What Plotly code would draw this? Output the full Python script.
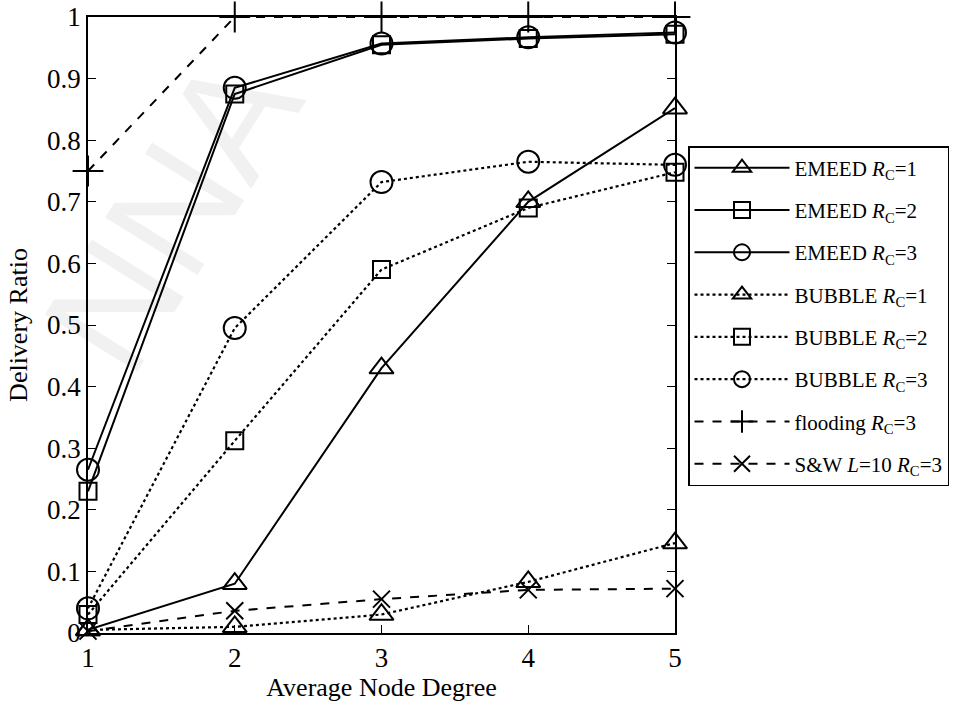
import plotly.graph_objects as go

# Average node degree (x axis)
node_degree = [1, 2, 3, 4, 5]

# Delivery ratio per scheme
emeed_rc1 = [0.005, 0.080, 0.430, 0.700, 0.852]
emeed_rc2 = [0.230, 0.875, 0.955, 0.965, 0.972]
emeed_rc3 = [0.265, 0.885, 0.957, 0.967, 0.975]
bubble_rc1 = [0.005, 0.010, 0.030, 0.083, 0.146]
bubble_rc2 = [0.030, 0.312, 0.590, 0.690, 0.748]
bubble_rc3 = [0.040, 0.495, 0.732, 0.765, 0.760]
flooding_rc3 = [0.750, 1.000, 1.000, 1.000, 1.000]
sw_l10_rc3 = [0.003, 0.036, 0.055, 0.070, 0.072]

series_names = [
    "EMEED <i>R</i><sub>C</sub>=1",
    "EMEED <i>R</i><sub>C</sub>=2",
    "EMEED <i>R</i><sub>C</sub>=3",
    "BUBBLE <i>R</i><sub>C</sub>=1",
    "BUBBLE <i>R</i><sub>C</sub>=2",
    "BUBBLE <i>R</i><sub>C</sub>=3",
    "flooding <i>R</i><sub>C</sub>=3",
    "S&W <i>L</i>=10 <i>R</i><sub>C</sub>=3",
]
series_values = [emeed_rc1, emeed_rc2, emeed_rc3,
                 bubble_rc1, bubble_rc2, bubble_rc3,
                 flooding_rc3, sw_l10_rc3]

y_tick_vals = [0, 0.1, 0.2, 0.3, 0.4, 0.5, 0.6, 0.7, 0.8, 0.9, 1]
y_tick_text = ["0", "0.1", "0.2", "0.3", "0.4", "0.5", "0.6", "0.7", "0.8", "0.9", "1"]
x_tick_vals = [1, 2, 3, 4, 5]

styles = [
    dict(dash="solid", symbol="triangle-up-open", size=21),
    dict(dash="solid", symbol="square-open", size=17),
    dict(dash="solid", symbol="circle-open", size=22),
    dict(dash="dot", symbol="triangle-up-open", size=21),
    dict(dash="dot", symbol="square-open", size=17),
    dict(dash="dot", symbol="circle-open", size=22),
    dict(dash="dash", symbol="cross-thin-open", size=22),
    dict(dash="dash", symbol="x-thin-open", size=17),
]

FONT = "Liberation Serif, Times New Roman, serif"

fig = go.Figure()
for i, (name, vals, st) in enumerate(zip(series_names, series_values, styles)):
    fig.add_trace(go.Scatter(
        x=node_degree, y=vals, name=name, mode="lines+markers",
        legendgroup=f"g{i}",
        line=dict(color="black", width=2 if st["dash"] != "dot" else 2.2, dash=st["dash"]),
        marker=dict(symbol=st["symbol"], size=st["size"], color="black",
                    line=dict(color="black", width=2)),
        cliponaxis=False,
    ))

# faint diagonal watermark
fig.add_annotation(
    text="NNA", xref="x domain", yref="y domain",
    x=(172 - 88) / 587, y=(633 - 212) / 616, xanchor="center", yanchor="middle",
    showarrow=False,
    font=dict(family="Liberation Sans, Arial, sans-serif", size=158,
              color="rgba(0,0,0,0.055)"),
    textangle=-58,
)

fig.update_layout(
    width=963, height=707,
    margin=dict(l=88, r=288, t=17, b=74, autoexpand=False),
    paper_bgcolor="white", plot_bgcolor="white",
    font=dict(family=FONT, color="black", size=26),
    showlegend=True,
    legend=dict(
        x=(688 - 88) / 587, y=(633 - 146) / 616, xanchor="left", yanchor="top",
        bgcolor="white", bordercolor="black", borderwidth=1.5,
        font=dict(family=FONT, size=21, color="black"),
        itemwidth=95, tracegroupgap=12, traceorder="grouped",
    ),
    xaxis=dict(
        range=[1, 5], tickvals=x_tick_vals, ticks="inside", ticklen=8,
        tickwidth=1, tickcolor="black", showline=True, linecolor="black",
        linewidth=1.5, mirror="ticks", showgrid=False, zeroline=False,
        automargin=False, tickfont=dict(size=27),
        title=dict(text="Average Node Degree", font=dict(size=26), standoff=6),
    ),
    yaxis=dict(
        range=[0, 1], tickvals=y_tick_vals, ticktext=y_tick_text, ticks="inside",
        ticklen=8, tickwidth=1, tickcolor="black", showline=True,
        linecolor="black", linewidth=1.5, mirror="ticks", showgrid=False,
        zeroline=False, automargin=False, tickfont=dict(size=27),
        title=dict(text="Delivery Ratio", font=dict(size=26), standoff=12),
    ),
)

fig.write_html("out.html")
